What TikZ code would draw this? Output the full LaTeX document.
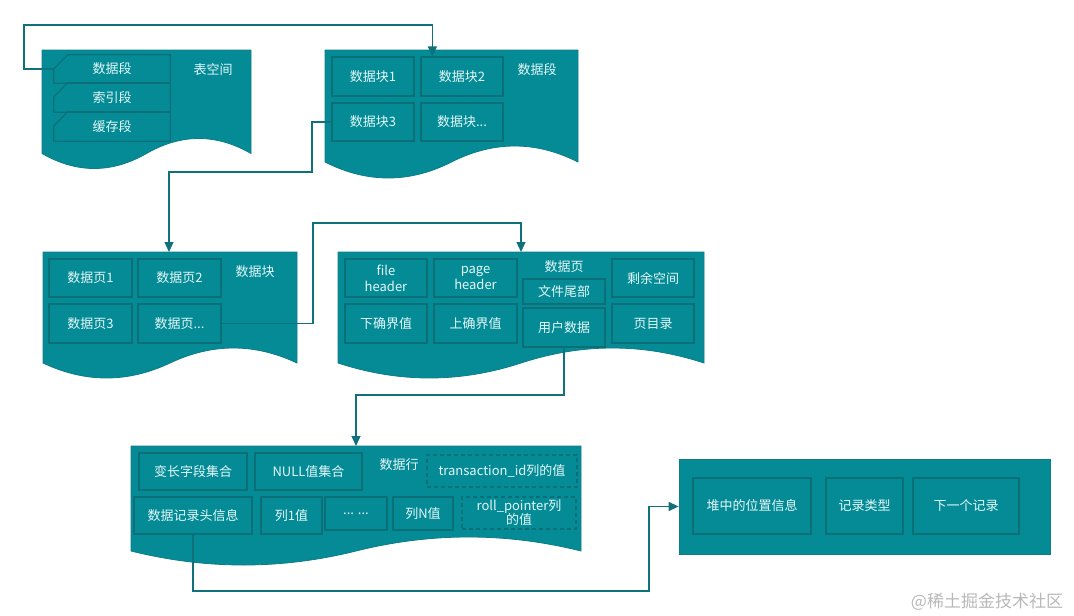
\documentclass[tikz,border=0pt]{standalone}
\usepackage{fontspec}
\setmainfont{Noto Sans CJK SC}
\usetikzlibrary{arrows.meta, calc}

\definecolor{panelfill}{HTML}{058B96}
\definecolor{panelline}{HTML}{0E7C86}
\definecolor{cellline}{HTML}{0B6F78}
\definecolor{cellfg}{HTML}{E3F8F8}
\definecolor{linkcol}{HTML}{10717B}

% panel with a wavy bottom: left, top, right, base, wave
\newcommand{\docpanel}[5]{%
  \filldraw[panel] (#1,#2) -- (#3,#2) -- (#3,#4)
    .. controls ({#3-(#3-#1)/6},{#4-4*#5/3}) and ({#1+2*(#3-#1)/3},{#4-4*#5/3}) .. ({(#1+#3)/2},#4)
    .. controls ({#1+(#3-#1)/3},{#4+4*#5/3}) and ({#1+(#3-#1)/6},{#4+4*#5/3}) .. (#1,#4) -- cycle;}

\begin{document}
\begin{tikzpicture}[x=1pt, y=-1pt, font=\fontsize{13}{16}\selectfont,
    panel/.style={fill=panelfill, draw=panelline, line width=0.8pt},
    cell/.style={draw=cellline, line width=1.2pt, fill=panelfill, text=cellfg, inner sep=1pt,
        minimum width=82pt, minimum height=38pt, align=center},
    dashcell/.style={cell, dash pattern=on 4pt off 3pt},
    card/.style={minimum width=116pt, minimum height=28pt, text=cellfg, inner sep=0pt},
    title/.style={text=cellfg},
    link/.style={draw=linkcol, line width=1.3pt},
    tip/.style={-{Triangle[length=10pt,width=9pt]}}]
\useasboundingbox (0,0) rectangle (1074,616);

% tablespace
\docpanel{42}{50}{251}{153.5}{15}
\node[card] (seg1) at (112,69) {数据段};
\node[card, minimum height=29pt] (seg2) at (112,97.5) {索引段};
\node[card, minimum height=29pt] (seg3) at (112,126.5) {缓存段};
\foreach \c in {seg1,seg2,seg3}
    \draw[cellline, line width=1.2pt] (\c.south west) -- ($(\c.north west)+(0,14)$)
        -- ($(\c.north west)+(14,0)$) -- (\c.north east) -- (\c.south east) -- cycle;
\node[title] (ts) at (213,70) {表空间};

% segment
\docpanel{325}{50}{578}{162}{16}
\node[cell, minimum height=39pt] (blk1) at (373,76.5) {数据块1};
\node[cell, minimum height=39pt] (blk2) at (462,76.5) {数据块2};
\node[cell] (blk3) at (373,122) {数据块3};
\node[cell] (blk4) at (462,122) {数据块...};
\node[title] (sg) at (537,70) {数据段};

% block
\docpanel{43}{252}{297}{363}{15}
\node[cell, minimum width=83pt] (pg1) at (90.5,278) {数据页1};
\node[cell, minimum width=83pt] (pg2) at (179.5,278) {数据页2};
\node[cell, minimum width=83pt, minimum height=39pt] (pg3) at (90.5,323.5) {数据页3};
\node[cell, minimum width=83pt, minimum height=39pt] (pg4) at (179.5,323.5) {数据页...};
\node[title] (bk) at (255,272) {数据块};

% page
\docpanel{338}{252}{704}{363}{15}
\node[cell] (fh) at (386,278) {file\\header};
\node[cell, minimum width=83pt] (ph) at (475.5,278) {page\\header};
\node[title] (pgt) at (564,267) {数据页};
\node[cell, minimum height=25pt] (ft) at (564,291.5) {文件尾部};
\node[cell] (free) at (653,278) {剩余空间};
\node[cell, minimum height=39pt] (inf) at (386,323.5) {下确界值};
\node[cell, minimum width=83pt, minimum height=39pt] (sup) at (475.5,323.5) {上确界值};
\node[cell, minimum height=39pt] (user) at (564,327.5) {用户数据};
\node[cell, minimum height=39pt] (dir) at (653,323.5) {页目录};

% row
\docpanel{131}{446}{581}{551}{14}
\node[cell, minimum width=108pt, minimum height=37pt] (varlen) at (193,471.5) {变长字段集合};
\node[cell, minimum width=107pt, minimum height=37pt] (nulls) at (308.5,471.5) {NULL值集合};
\node[title] (rw) at (399,465) {数据行};
\node[dashcell, minimum width=150pt, minimum height=32pt] (trx) at (502,471) {transaction\_id列的值};
\node[cell, minimum width=118pt, minimum height=37pt] (hdr) at (193,515.5) {数据记录头信息};
\node[cell, minimum width=61pt, minimum height=37pt] (col1) at (291.5,515.5) {列1值};
\node[cell, minimum width=62pt, minimum height=33pt] (cols) at (356,513.5) {... ...};
\node[cell, minimum width=60pt, minimum height=33pt] (coln) at (423,513.5) {列N值};
\node[dashcell, minimum width=114pt, minimum height=32pt, font=\fontsize{13}{14}\selectfont] (roll) at (519,513) {roll\_pointer列\\的值};

% record header
\node[panel, minimum width=371pt, minimum height=95pt] (rec) at (864.5,506.5) {};
\node[cell, minimum width=118pt, minimum height=56pt] (heap) at (752,506) {堆中的位置信息};
\node[cell, minimum width=77pt, minimum height=56pt] (kind) at (864.5,506) {记录类型};
\node[cell, minimum width=106pt, minimum height=56pt] (next) at (966,506) {下一个记录};

\node[text=black!28, font=\fontsize{17}{20}\selectfont] (mark) at (987,602) {@稀土掘金技术社区};

% links
\coordinate (in3) at (169,252);
\coordinate (in4) at (521,252);
\coordinate (in5) at (356,446);
\draw[link, tip] (seg1.west) -| (24,25) -| ($(blk2.north west)+(12,0)$);
\draw[link, tip] (blk3.west) -| (312,172) -| (in3);
\draw[link, tip] (pg4.east) -| (313,223) -| (in4);
\draw[link, tip] (user.south) |- (in5 |- 0,395) -- (in5);
\draw[link, tip] (hdr.south) |- (649,591) |- (rec.west);
\end{tikzpicture}
\end{document}
